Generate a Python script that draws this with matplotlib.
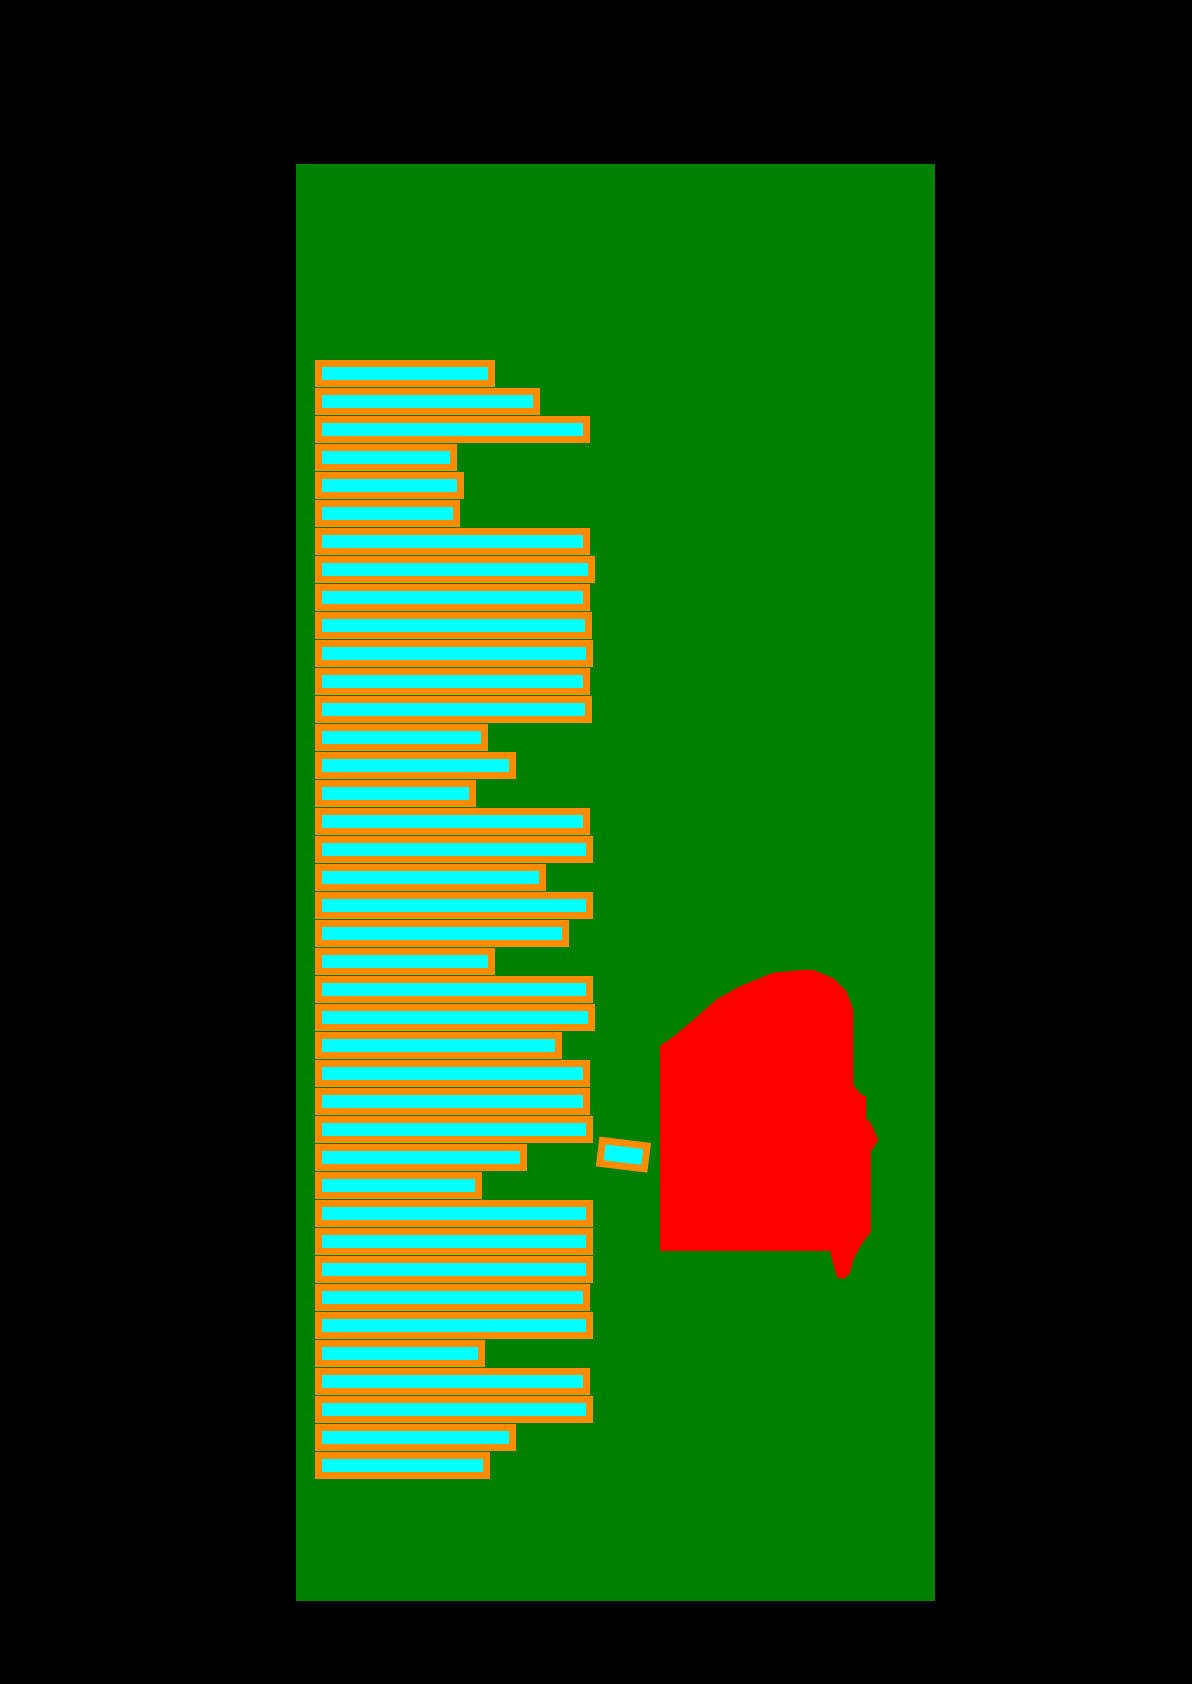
import matplotlib
matplotlib.use("Agg")
import matplotlib.pyplot as plt
import numpy as np
from matplotlib.patches import Rectangle, Polygon
from matplotlib.transforms import Affine2D

# bar values, top to bottom
values = [63.6, 80.1, 98.5, 49.3, 52.2, 50.4, 98.5, 100.0, 98.2, 98.9,
          99.6, 98.2, 98.9, 60.7, 71.0, 56.3, 98.5, 99.3, 82.0, 99.3,
          90.8, 63.6, 99.3, 100.0, 87.9, 98.2, 98.2, 99.6, 75.0, 58.5,
          99.6, 99.3, 99.3, 98.5, 99.6, 59.9, 98.5, 99.6, 71.0, 61.4]
positions = np.arange(len(values))

# the loose, slightly tilted bar
tilt_center = (112.1, 27.9)
tilt_size = (16.5, 0.82)
tilt_angle = -7

# red shape outline (data units)
blob_x = [125.5, 130.4, 137.8, 146.4, 155.0, 167.2, 178.2, 181.9, 189.3, 194.2,
          196.6, 196.6, 199.1, 201.3, 201.3, 203.1, 205.8, 203.1, 203.1, 199.1,
          196.6, 195.4, 192.9, 190.5, 189.5, 188.1, 125.5]
blob_y = [24.02, 23.69, 23.09, 22.35, 21.88, 21.40, 21.30, 21.30, 21.60, 22.08,
          22.73, 25.41, 25.71, 25.83, 26.60, 26.78, 27.38, 27.79, 30.65, 31.19,
          31.66, 32.14, 32.35, 32.26, 31.90, 31.34, 31.34]

fig = plt.figure(figsize=(11.92, 16.84), dpi=100)
fig.patch.set_facecolor("black")
ax = fig.add_axes([296 / 1192, 83 / 1684, 639 / 1192, 1437 / 1684])
ax.set_facecolor("green")

ax.barh(positions, values, height=0.714, color="cyan",
        edgecolor="darkorange", linewidth=5.04)

ax.add_patch(Polygon(np.column_stack([blob_x, blob_y]), closed=True,
                     facecolor="red", edgecolor="none"))

ax.set_xlim(-8.27, 226.65)
ax.set_ylim(43.84, -7.48)
ax.set_xticks([])
ax.set_yticks([])
for s in ax.spines.values():
    s.set_visible(False)

# tilted bar, rotated on screen around its centre
cx, cy = tilt_center
w, h = tilt_size
px, py = ax.transData.transform((cx, cy))
tilted = Rectangle((cx - w / 2, cy - h / 2), w, h, facecolor="cyan",
                   edgecolor="darkorange", linewidth=5.04)
tilted.set_transform(ax.transData + Affine2D().rotate_deg_around(px, py, tilt_angle))
ax.add_patch(tilted)

fig.savefig("out.png", dpi=100, facecolor="black")
